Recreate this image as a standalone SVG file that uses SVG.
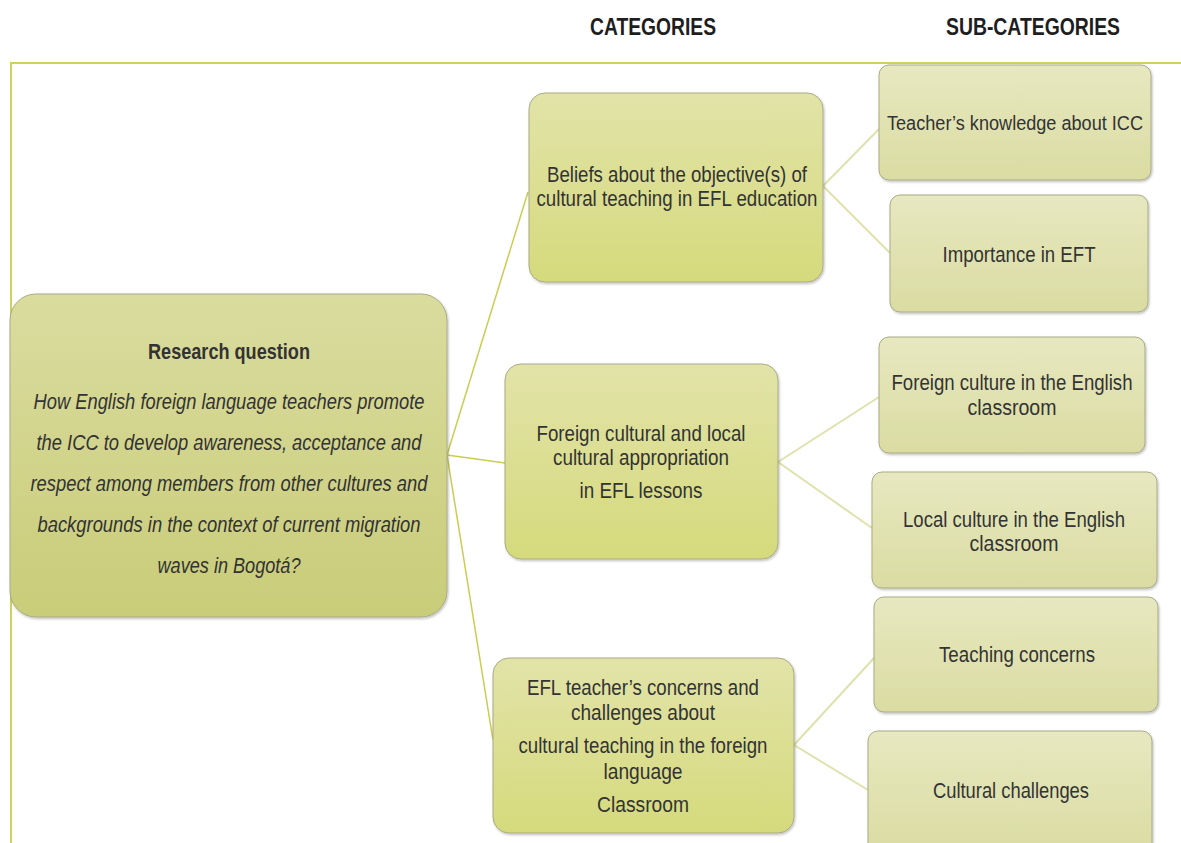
<svg xmlns="http://www.w3.org/2000/svg" width="1181" height="843" viewBox="0 0 1181 843">
<defs>
<linearGradient id="gRoot" x1="0" y1="0" x2="0" y2="1">
<stop offset="0" stop-color="#dadc9f"/><stop offset="1" stop-color="#c9cc78"/>
</linearGradient>
<linearGradient id="gCat" x1="0" y1="0" x2="0" y2="1">
<stop offset="0" stop-color="#e2e3a8"/><stop offset="1" stop-color="#d5da7c"/>
</linearGradient>
<linearGradient id="gSub" x1="0" y1="0" x2="0" y2="1">
<stop offset="0" stop-color="#e7e8c0"/><stop offset="1" stop-color="#dadca2"/>
</linearGradient>
<filter id="sh" x="-5%" y="-5%" width="110%" height="115%">
<feDropShadow dx="1" dy="1.5" stdDeviation="1.2" flood-color="#000" flood-opacity="0.25"/>
</filter>
</defs>
<style>
.root{fill:url(#gRoot);stroke:#a9ab84;stroke-width:1;filter:url(#sh)}
.cat{fill:url(#gCat);stroke:#a9ab84;stroke-width:1;filter:url(#sh)}
.sub{fill:url(#gSub);stroke:#a9ab84;stroke-width:1;filter:url(#sh)}
text{font-family:"Liberation Sans",Arial,sans-serif;fill:#333;text-anchor:middle;font-size:22.5px}
.hd{font-weight:bold;font-size:24px;fill:#1e1e1e}
.b{font-weight:bold}
.i{font-style:italic;font-size:21.5px}
.sm{font-size:19.5px}
.c1{stroke:#c9cd52;stroke-width:1.5;fill:none}
.c2{stroke:#dfe2ac;stroke-width:2;fill:none}
.frame{stroke:#cdd25a;stroke-width:2;fill:none}
</style>
<rect width="1181" height="843" fill="#fff"/>
<text class="hd" x="653" y="35" textLength="126" lengthAdjust="spacingAndGlyphs">CATEGORIES</text>
<text class="hd" x="1033" y="35" textLength="174" lengthAdjust="spacingAndGlyphs">SUB-CATEGORIES</text>
<path class="frame" d="M1181 63 H11 V843"/>
<g id="connectors">
<line class="c1" x1="447" y1="455" x2="528" y2="192"/>
<line class="c1" x1="447" y1="455" x2="505" y2="463"/>
<line class="c1" x1="447" y1="455" x2="493" y2="740"/>
<line class="c2" x1="823" y1="186" x2="880" y2="128"/>
<line class="c2" x1="823" y1="186" x2="890" y2="253"/>
<line class="c2" x1="778" y1="462" x2="879" y2="397"/>
<line class="c2" x1="778" y1="462" x2="872" y2="528"/>
<line class="c2" x1="794" y1="745" x2="874" y2="658"/>
<line class="c2" x1="794" y1="745" x2="868" y2="790"/>
</g>
<g id="research">
<rect class="root" x="10" y="294" width="437" height="323" rx="26"/>
<text class="b" x="229" y="359" textLength="162" lengthAdjust="spacingAndGlyphs">Research question</text>
<text class="i" x="229" y="409" textLength="391" lengthAdjust="spacingAndGlyphs">How English foreign language teachers promote</text>
<text class="i" x="229" y="450" textLength="385" lengthAdjust="spacingAndGlyphs">the ICC to develop awareness, acceptance and</text>
<text class="i" x="229" y="491" textLength="397" lengthAdjust="spacingAndGlyphs">respect among members from other cultures and</text>
<text class="i" x="229" y="532" textLength="383" lengthAdjust="spacingAndGlyphs">backgrounds in the context of current migration</text>
<text class="i" x="229" y="573" textLength="143" lengthAdjust="spacingAndGlyphs">waves in Bogotá?</text>
</g>
<g id="cat1">
<rect class="cat" x="529" y="93" width="294" height="189" rx="16"/>
<text x="677" y="182" textLength="260" lengthAdjust="spacingAndGlyphs">Beliefs about the objective(s) of</text>
<text x="677" y="206" textLength="281" lengthAdjust="spacingAndGlyphs">cultural teaching in EFL education</text>
</g>
<g id="cat2">
<rect class="cat" x="505" y="364" width="273" height="195" rx="16"/>
<text x="641" y="441" textLength="209" lengthAdjust="spacingAndGlyphs">Foreign cultural and local</text>
<text x="641" y="465" textLength="176" lengthAdjust="spacingAndGlyphs">cultural appropriation</text>
<text x="641" y="498" textLength="123" lengthAdjust="spacingAndGlyphs">in EFL lessons</text>
</g>
<g id="cat3">
<rect class="cat" x="493" y="658" width="301" height="175" rx="16"/>
<text x="643" y="695" textLength="232" lengthAdjust="spacingAndGlyphs">EFL teacher’s concerns and</text>
<text x="643" y="720" textLength="144" lengthAdjust="spacingAndGlyphs">challenges about</text>
<text x="643" y="753" textLength="249" lengthAdjust="spacingAndGlyphs">cultural teaching in the foreign</text>
<text x="643" y="779" textLength="79" lengthAdjust="spacingAndGlyphs">language</text>
<text x="643" y="812" textLength="92" lengthAdjust="spacingAndGlyphs">Classroom</text>
</g>
<g id="sub1">
<rect class="sub" x="879" y="65" width="272" height="115" rx="10"/>
<text class="sm" x="1015" y="130" textLength="256" lengthAdjust="spacingAndGlyphs">Teacher’s knowledge about ICC</text>
</g>
<g id="sub2">
<rect class="sub" x="890" y="195" width="258" height="117" rx="10"/>
<text x="1019" y="262" textLength="153" lengthAdjust="spacingAndGlyphs">Importance in EFT</text>
</g>
<g id="sub3">
<rect class="sub" x="879" y="337" width="266" height="116" rx="10"/>
<text x="1012" y="390" textLength="241" lengthAdjust="spacingAndGlyphs">Foreign culture in the English</text>
<text x="1012" y="415" textLength="89" lengthAdjust="spacingAndGlyphs">classroom</text>
</g>
<g id="sub4">
<rect class="sub" x="872" y="472" width="285" height="116" rx="10"/>
<text x="1014" y="527" textLength="222" lengthAdjust="spacingAndGlyphs">Local culture in the English</text>
<text x="1014" y="551" textLength="89" lengthAdjust="spacingAndGlyphs">classroom</text>
</g>
<g id="sub5">
<rect class="sub" x="874" y="597" width="284" height="115" rx="10"/>
<text x="1017" y="662" textLength="156" lengthAdjust="spacingAndGlyphs">Teaching concerns</text>
</g>
<g id="sub6">
<rect class="sub" x="868" y="731" width="284" height="125" rx="10"/>
<text x="1011" y="798" textLength="156" lengthAdjust="spacingAndGlyphs">Cultural challenges</text>
</g>
</svg>
